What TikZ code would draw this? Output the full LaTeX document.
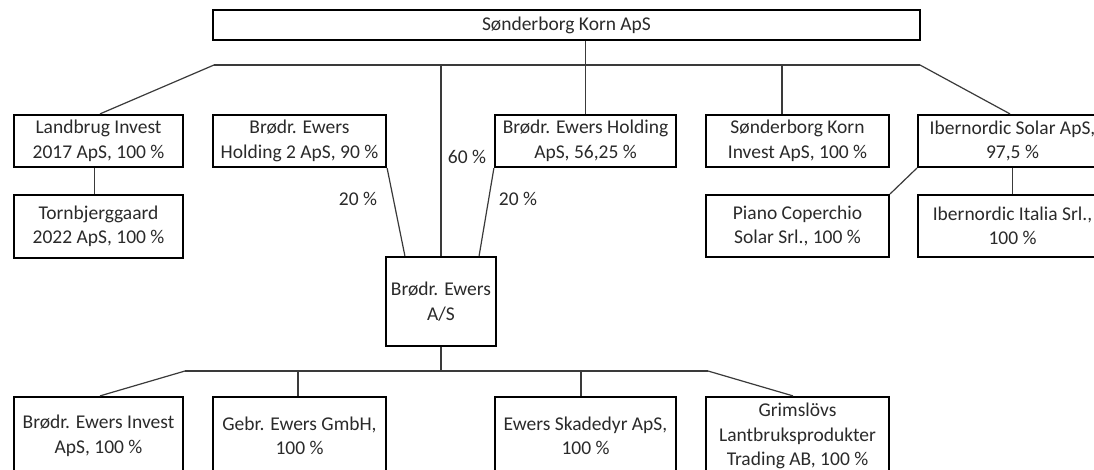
\documentclass[tikz,border=0pt]{standalone}
\usepackage{fontspec}
\setmainfont{Carlito}
\usetikzlibrary{calc}
\definecolor{txt}{HTML}{2A2A2A}
\definecolor{conn}{HTML}{3A3A3A}
\tikzset{
  box/.style={draw=black, line width=2.2pt, rectangle, align=center, text=txt, inner sep=0pt,
    font=\fontsize{19.5}{24.5}\selectfont},
  lbl/.style={text=txt, inner sep=0pt, font=\fontsize{19.5}{24.5}\selectfont},
  link/.style={draw=conn, line width=1.2pt}
}
\begin{document}
\begin{tikzpicture}[x=1pt,y=-1pt]
\useasboundingbox (0,0) rectangle (1094,470);
\clip (0,0) rectangle (1094,470);
\fill[white] (0,0) rectangle (1094,470);
% top
\node[box, minimum width=707pt, minimum height=30pt] (top) at (566.5,25) {Sønderborg Korn ApS};
% row 1
\node[box, minimum width=169pt, minimum height=52pt] (landbrug) at (98.5,141) {Landbrug Invest\\2017 ApS, 100 \%};
\node[box, minimum width=173pt, minimum height=52pt] (holdtwo) at (299.5,141) {Brødr. Ewers\\Holding 2 ApS, 90 \%};
\node[box, minimum width=181pt, minimum height=52pt] (holding) at (585.5,141) {Brødr. Ewers Holding\\ApS, 56,25 \%};
\node[box, minimum width=183pt, minimum height=52pt] (invest) at (797.5,141) {Sønderborg Korn\\Invest ApS, 100 \%};
\node[box, minimum width=189pt, minimum height=52pt] (ibsolar) at (1012.5,141) {Ibernordic Solar ApS,\\97,5 \%};
% row 2
\node[box, minimum width=169pt, minimum height=63pt] (tornb) at (98.5,226.5) {Tornbjerggaard\\2022 ApS, 100 \%};
\node[box, minimum width=183pt, minimum height=62pt] (piano) at (797.5,226) {Piano Coperchio\\Solar Srl., 100 \%};
\node[box, minimum width=189pt, minimum height=62pt] (italia) at (1012.5,226) {Ibernordic Italia Srl.,\\100 \%};
% A/S
\node[box, minimum width=110pt, minimum height=89pt] (as) at (441,301.5) {Brødr. Ewers\\A/S};
% bottom row
\node[box, minimum width=169pt, minimum height=78pt] (binv) at (98.5,436) {Brødr. Ewers Invest\\ApS, 100 \%};
\node[box, minimum width=173pt, minimum height=78pt] (gebr) at (299.5,436) {Gebr. Ewers GmbH,\\100 \%};
\node[box, minimum width=181pt, minimum height=78pt] (skade) at (585.5,436) {Ewers Skadedyr ApS,\\100 \%};
\node[box, minimum width=183pt, minimum height=78pt] (grims) at (797.5,436) {Grimslövs\\Lantbruksprodukter\\Trading AB, 100 \%};
% labels
\node[lbl] (l20a) at (358,199) {20 \%};
\node[lbl] (l20b) at (518,199) {20 \%};
\node[lbl] (l60) at (467,157) {60 \%};
% bus coordinates
\coordinate (busL) at (214,65);
\coordinate (busR) at (920,65);
\coordinate (bbusL) at (185,371);
\coordinate (bbusR) at (708,371);
% top connectors
\draw[link] (busL) -- (busR);
\draw[link] (busL) -- ($(landbrug.north)+(1.5,0)$);
\draw[link] (holdtwo.north -| 284,0) -- (holdtwo.north -| 284,0 |- busL);
\draw[link] (as.north) -- (as.north |- busL);
\draw[link] (top.south -| holding.north) -- (holding.north);
\draw[link] ($(invest.north)+(-15.5,0)$) -- ($(invest.north |- busL)+(-15.5,0)$);
\draw[link] (busR) -- ($(ibsolar.north)+(-2.5,0)$);
% second level
\draw[link] ($(landbrug.south)+(-4,0)$) -- ($(tornb.north)+(-4,0)$);
\draw[link] (ibsolar.south) -- (italia.north);
\draw[link] (ibsolar.south west) -- (piano.north east);
\draw[link] (holdtwo.south east) -- ($(as.north west)+(20,0)$);
\draw[link] (holding.south west) -- ($(as.north east)+(-18,0)$);
% bottom
\draw[link] (as.south) -- (as.south |- bbusL);
\draw[link] (bbusL) -- (bbusR);
\draw[link] (bbusL) -- ($(binv.north)+(1.5,0)$);
\draw[link] ($(gebr.north)+(-1.5,0)$) -- ($(gebr.north |- bbusL)+(-1.5,0)$);
\draw[link] ($(skade.north)+(-4.5,0)$) -- ($(skade.north |- bbusL)+(-4.5,0)$);
\draw[link] (bbusR) -- ($(grims.north)+(-4.5,0)$);
\end{tikzpicture}
\end{document}
